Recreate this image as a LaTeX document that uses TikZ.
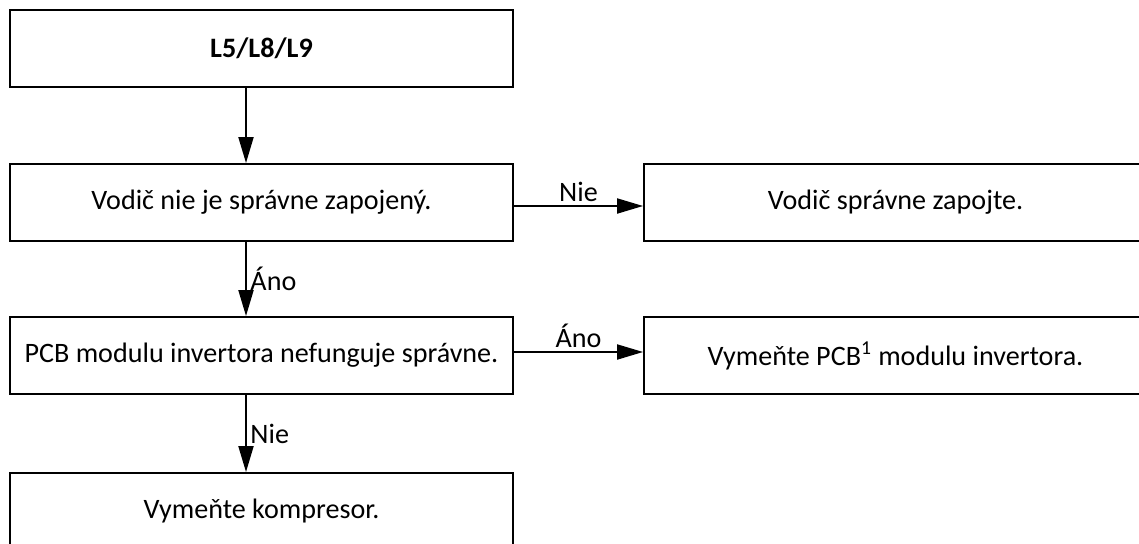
\documentclass[tikz,border=0pt]{standalone}
\usepackage{fontspec}
\setmainfont{Carlito}
\usetikzlibrary{arrows.meta,positioning}

\begin{document}
\begin{tikzpicture}[>={Triangle[length=5.2mm,width=3mm]},x=0.02cm,y=-0.02cm,
  box/.style={draw,line width=1.1pt,minimum width=10.06cm,minimum height=1.54cm,
    inner sep=0pt,font=\fontsize{16}{19}\selectfont},
  link/.style={->,line width=1.1pt},
  lbl/.style={font=\fontsize{16}{19}\selectfont,inner sep=2pt}]
  \useasboundingbox (0,0) rectangle (1139,544);

  \node[box,font=\fontsize{16}{19}\bfseries] (start) at (261.5,48.5) {L5/L8/L9};
  \node[box] (wire) at (261.5,202.5) {Vodič nie je správne zapojený.};
  \node[box] (pcb) at (261.5,355.5) {PCB modulu invertora nefunguje správne.};
  \node[box] (comp) at (261.5,511.5) {Vymeňte kompresor.};
  \node[box] (wirefix) at (895.5,202.5) {Vodič správne zapojte.};
  \node[box] (pcbfix) at (895.5,355.5) {Vymeňte PCB\textsuperscript{1} modulu invertora.};

  \coordinate (spine) at (246,0);
  \coordinate (row1) at (0,206);
  \coordinate (row2) at (0,352);
  \draw[link] (start.south -| spine) -- (wire.north -| spine);
  \draw[link] (wire.south -| spine) --
    node[lbl,right] {Áno} (pcb.north -| spine);
  \draw[link] (pcb.south -| spine) --
    node[lbl,right] {Nie} (comp.north -| spine);
  \draw[link] (wire.east |- row1) -- node[lbl,above] {Nie} (wirefix.west |- row1);
  \draw[link] (pcb.east |- row2) -- node[lbl,above] {Áno} (pcbfix.west |- row2);
\end{tikzpicture}
\end{document}
